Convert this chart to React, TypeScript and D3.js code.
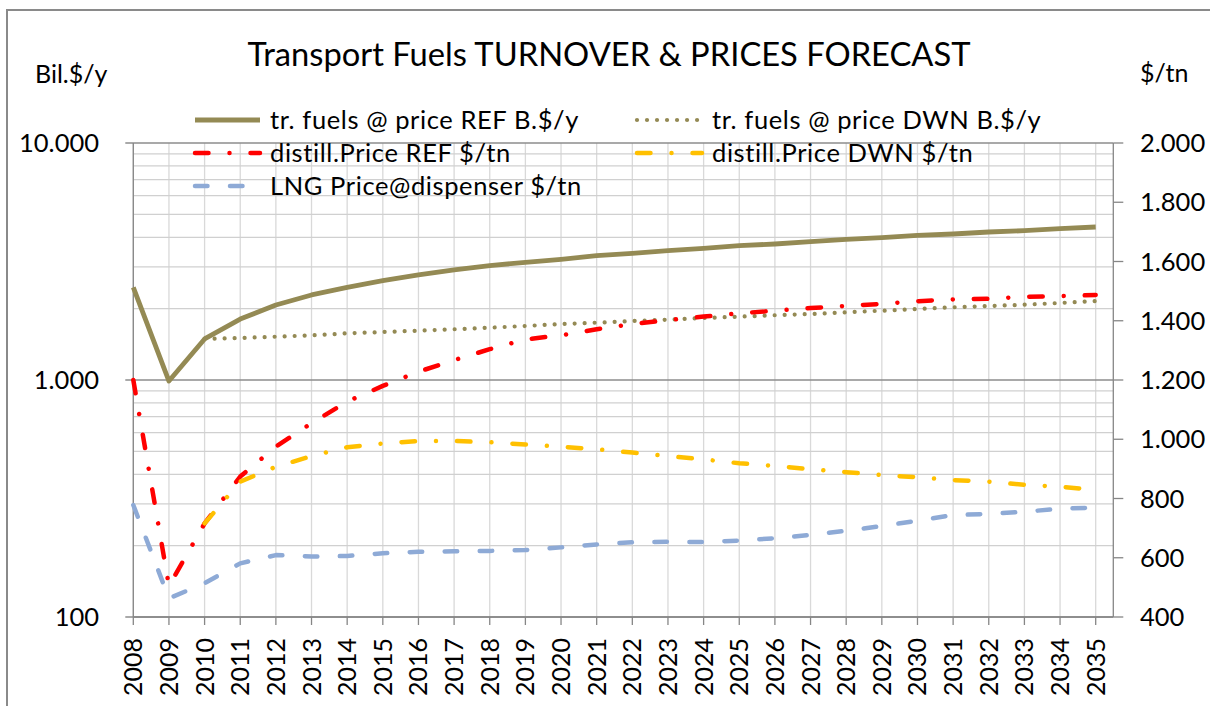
import React, { useEffect, useRef } from 'react';
import * as d3 from 'd3';

// categories / tick labels
const years = [
  '2008', '2009', '2010', '2011', '2012', '2013', '2014', '2015', '2016', '2017',
  '2018', '2019', '2020', '2021', '2022', '2023', '2024', '2025', '2026', '2027',
  '2028', '2029', '2030', '2031', '2032', '2033', '2034', '2035'
];

// left axis (log) - B.$/y
const turnoverRef = [
  2460, 990, 1490, 1808, 2072, 2285, 2460, 2624, 2774, 2912,
  3036, 3138, 3230, 3346, 3424, 3514, 3595, 3687, 3749, 3834,
  3922, 3986, 4079, 4130, 4212, 4266, 4350, 4422
];
const turnoverDwn = [
  null, null, 1490, 1504, 1523, 1543, 1574, 1594, 1615, 1637,
  1662, 1690, 1722, 1745, 1774, 1797, 1827, 1850, 1876, 1899,
  1930, 1961, 1994, 2026, 2052, 2078, 2113, 2155
];

// right axis - $/tn
const distillRef = [
  1200, 505, 716, 874, 975, 1054, 1127, 1180, 1228, 1267,
  1304, 1337, 1351, 1371, 1389, 1402, 1414, 1425, 1434, 1443,
  1450, 1457, 1466, 1472, 1474, 1481, 1483, 1487
];
const distillDwn = [
  null, null, 716, 857, 907, 943, 973, 986, 994, 994,
  990, 982, 975, 966, 955, 943, 932, 919, 910, 899,
  889, 879, 872, 862, 857, 846, 840, 829
];
const lngPrice = [
  778, 463, 514, 581, 609, 604, 606, 615, 620, 622,
  623, 626, 635, 645, 652, 654, 653, 658, 666, 677,
  691, 707, 725, 744, 748, 755, 766, 769
];

const leftTicks = [100, 1000, 10000];
const rightTicks = [400, 600, 800, 1000, 1200, 1400, 1600, 1800, 2000];

const FONT = 'Lato, "Open Sans", sans-serif';

export default function App() {
  const ref = useRef<SVGSVGElement>(null);

  useEffect(() => {
    document.body.style.margin = '0';
    const svg = d3.select(ref.current);
    svg.selectAll('*').remove();

    // plot area
    const left = 133.3;
    const right = 1113.3;
    const top = 143;
    const bottom = 617;

    const x = d3.scalePoint().domain(years).range([left, 1095.7]);
    const yL = d3.scaleLog().domain([100, 10000]).range([bottom, top]);
    const yR = d3.scaleLinear().domain([400, 2000]).range([bottom, top]);

    const loc = d3.formatLocale({ decimal: ',', thousands: '.', grouping: [3], currency: ['', ''] });
    const fmtL = loc.format(',.3~f');
    const fmtR = loc.format(',');

    // outer chart border
    svg.append('rect')
      .attr('x', 7).attr('y', 10)
      .attr('width', 1260).attr('height', 760)
      .attr('fill', 'white')
      .attr('stroke', '#8a8a8a')
      .attr('stroke-width', 2);

    // vertical grid
    svg.append('g').selectAll('line')
      .data(years)
      .enter().append('line')
      .attr('x1', d => x(d)).attr('x2', d => x(d))
      .attr('y1', top).attr('y2', bottom)
      .attr('stroke', '#d9d9d9').attr('stroke-width', 1.3);

    // log grid, minor + major
    const minor: number[] = [];
    [100, 1000].forEach(dec => {
      for (let k = 2; k <= 9; k++) minor.push(dec * k);
    });
    svg.append('g').selectAll('line')
      .data(minor)
      .enter().append('line')
      .attr('x1', left).attr('x2', right)
      .attr('y1', d => yL(d)).attr('y2', d => yL(d))
      .attr('stroke', '#d0d0d0').attr('stroke-width', 1.3);
    svg.append('g').selectAll('line')
      .data(leftTicks)
      .enter().append('line')
      .attr('x1', left - 8).attr('x2', right)
      .attr('y1', d => yL(d)).attr('y2', d => yL(d))
      .attr('stroke', '#8c8c8c').attr('stroke-width', 1.3);

    // axis lines
    const axisColor = '#868686';
    svg.append('line')
      .attr('x1', left).attr('x2', left).attr('y1', top).attr('y2', bottom)
      .attr('stroke', axisColor).attr('stroke-width', 1.3);
    svg.append('line')
      .attr('x1', right).attr('x2', right).attr('y1', top).attr('y2', bottom)
      .attr('stroke', axisColor).attr('stroke-width', 1.3);
    svg.append('line')
      .attr('x1', left).attr('x2', right).attr('y1', bottom).attr('y2', bottom)
      .attr('stroke', axisColor).attr('stroke-width', 1.3);

    // right ticks
    svg.append('g').selectAll('line')
      .data(rightTicks)
      .enter().append('line')
      .attr('x1', right).attr('x2', right + 10)
      .attr('y1', d => yR(d)).attr('y2', d => yR(d))
      .attr('stroke', axisColor).attr('stroke-width', 1.3);

    // bottom ticks
    svg.append('g').selectAll('line')
      .data(years)
      .enter().append('line')
      .attr('x1', d => x(d)).attr('x2', d => x(d))
      .attr('y1', bottom).attr('y2', bottom + 8)
      .attr('stroke', axisColor).attr('stroke-width', 1.3);

    // tick labels
    svg.append('g').selectAll('text')
      .data(leftTicks)
      .enter().append('text')
      .attr('x', 99).attr('y', d => yL(d)).attr('dy', '0.36em')
      .attr('text-anchor', 'end')
      .style('font-family', FONT).style('font-size', '25.5px')
      .text(d => fmtL(d));

    svg.append('g').selectAll('text')
      .data(rightTicks)
      .enter().append('text')
      .attr('x', 1140).attr('y', d => yR(d)).attr('dy', '0.36em')
      .style('font-family', FONT).style('font-size', '25.5px')
      .text(d => fmtR(d));

    svg.append('g').selectAll('text')
      .data(years)
      .enter().append('text')
      .attr('transform', d => 'translate(' + x(d) + ',638) rotate(-90)')
      .attr('dy', '0.36em')
      .attr('text-anchor', 'end')
      .style('font-family', FONT).style('font-size', '25px')
      .text(d => d);

    // titles
    svg.append('text')
      .attr('x', 609).attr('y', 66)
      .attr('text-anchor', 'middle')
      .style('font-family', FONT).style('font-size', '32.7px')
      .text('Transport Fuels TURNOVER & PRICES FORECAST');
    svg.append('text')
      .attr('x', 35).attr('y', 83)
      .style('font-family', FONT).style('font-size', '25px')
      .text('Bil.$/y');
    svg.append('text')
      .attr('x', 1140).attr('y', 82)
      .style('font-family', FONT).style('font-size', '25px')
      .text('$/tn');

    // series
    const series = [
      { name: 'tr. fuels @ price REF B.$/y', values: turnoverRef, axis: yL, color: '#948a54', width: 4.8, dash: null, lx: 195, ly: 120 },
      { name: 'tr. fuels @ price DWN B.$/y', values: turnoverDwn, axis: yL, color: '#948a54', width: 4.2, dash: '0.01 10', lx: 637, ly: 120 },
      { name: 'distill.Price REF $/tn', values: distillRef, axis: yR, color: '#ff0000', width: 4.5, dash: '13.5 21 0.01 21', lx: 195, ly: 153 },
      { name: 'distill.Price DWN $/tn', values: distillDwn, axis: yR, color: '#ffc000', width: 4.5, dash: '13.5 21 0.01 21', lx: 637, ly: 153 },
      { name: 'LNG Price@dispenser $/tn', values: lngPrice, axis: yR, color: '#8eaad6', width: 4.5, dash: '12.5 22.5', lx: 195, ly: 186 }
    ];

    series.forEach(s => {
      const line = d3.line<number | null>()
        .defined(d => d != null)
        .x((d, i) => x(years[i]) as number)
        .y(d => s.axis(d as number));

      svg.append('path')
        .datum(s.values)
        .attr('d', line)
        .attr('fill', 'none')
        .attr('stroke', s.color)
        .attr('stroke-width', s.width)
        .attr('stroke-linecap', s.dash ? 'round' : 'butt')
        .attr('stroke-linejoin', 'round')
        .attr('stroke-dasharray', s.dash);

      // legend entry
      svg.append('line')
        .attr('x1', s.lx).attr('x2', s.lx + 65)
        .attr('y1', s.ly).attr('y2', s.ly)
        .attr('stroke', s.color)
        .attr('stroke-width', s.width)
        .attr('stroke-linecap', s.dash ? 'round' : 'butt')
        .attr('stroke-dasharray', s.dash);
      svg.append('text')
        .attr('x', s.lx + 75).attr('y', s.ly).attr('dy', '0.36em')
        .style('font-family', FONT).style('font-size', '25.5px')
        .style('letter-spacing', '0.6px')
        .text(s.name);
    });
  }, []);

  return (
    <svg ref={ref} width={1210} height={706} style={{ display: 'block', background: 'white' }} />
  );
}
